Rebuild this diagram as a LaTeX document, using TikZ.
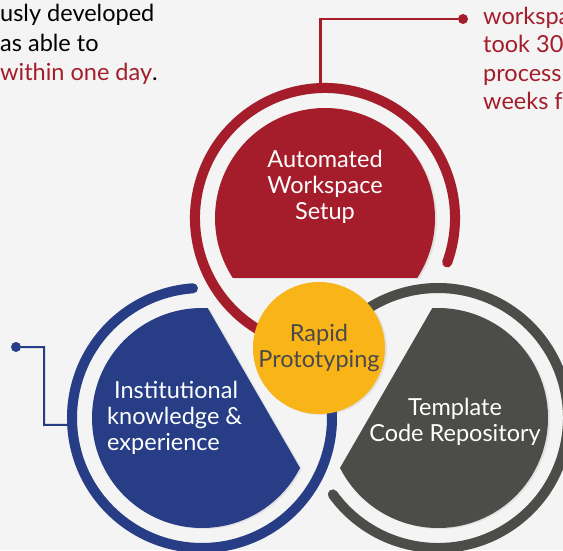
\documentclass[tikz,border=0pt]{standalone}
\usepackage{fontspec}
\setmainfont{Lato}
\usetikzlibrary{calc,shadows}
\definecolor{setupred}{HTML}{A51D2A}
\definecolor{knowblue}{HTML}{273D86}
\definecolor{repogray}{HTML}{4C4C48}
\definecolor{rapidyellow}{HTML}{F9B418}
\definecolor{rapidtext}{HTML}{4A4A4A}
\definecolor{paper}{HTML}{F4F4F4}

\begin{document}
\begin{tikzpicture}[x=1pt,y=1pt]
    \tikzstyle{ring}=[line width=10pt, line cap=round]
    \tikzstyle{ringshade}=[line width=10pt, line cap=round, black, opacity=0.12, shift={(2pt,-1pt)}]
    \tikzstyle{disc}=[drop shadow={shadow xshift=2pt, shadow yshift=-1pt, opacity=0.15}]
    \tikzstyle{disctext}=[text=white, align=center, inner sep=0pt, font=\fontsize{23.5}{26}\selectfont]
    \tikzstyle{dot}=[circle, inner sep=0pt, minimum size=10pt]
    \tikzstyle{note}=[anchor=base west, inner sep=0pt, font=\fontsize{23.5}{29}\selectfont]
    \useasboundingbox (0,0) rectangle (563,550);
    \fill[paper] (0,0) rectangle (563,550);
    \clip (0,0) rectangle (563,550);

    \coordinate (R) at (325,332);
    \coordinate (B) at (202,132);
    \coordinate (C) at (438,132);

    \draw[ringshade] ($(R)+(-20:130)$) arc[start angle=-20, end angle=250, radius=130];
    \draw[ringshade] ($(B)+(94:130)$) arc[start angle=94, end angle=380, radius=130];
    \draw[ringshade] ($(C)+(216:130)$) arc[start angle=216, end angle=490, radius=130];
    \draw[ring, setupred] ($(R)+(-20:130)$) arc[start angle=-20, end angle=250, radius=130];
    \draw[ring, knowblue] ($(B)+(94:130)$) arc[start angle=94, end angle=380, radius=130];
    \draw[ring, repogray] ($(C)+(216:130)$) arc[start angle=216, end angle=490, radius=130];

    \fill[disc, setupred] ($(R)+(-33:110)$) arc[start angle=-33, end angle=213, radius=110] -- cycle;
    \fill[disc, knowblue] ($(B)+(87:110)$) arc[start angle=87, end angle=333, radius=110] -- cycle;
    \fill[disc, repogray] ($(C)+(207:110)$) arc[start angle=207, end angle=453, radius=110] -- cycle;

    \node[disctext] (autoSetup) at (325,363) {Automated\\Workspace\\Setup};
    \node[disctext, align=left, anchor=west] (knowledge) at (107,132) {\hspace*{7pt}Institutional\\knowledge \&\\experience};
    \node[disctext] (codeRepo) at (455,128) {Template\\Code Repository};

    \node[circle, fill=rapidyellow, minimum size=132pt, inner sep=0pt, disc] (rapid) at (319,202) {};
    \node[disctext, text=rapidtext] (rapidText) at (rapid) {Rapid\\Prototyping};

    \coordinate (redRing) at ($(R)+(92:130)$);
    \coordinate (blueRing) at ($(B)+(183:130)$);
    \coordinate (blueBend) at (44,125);
    \node[dot, fill=setupred] (redDot) at (463,531) {};
    \node[dot, fill=knowblue] (blueDot) at (16,203) {};
    \draw[setupred, line width=2.5pt] (redDot) -| (redRing);
    \draw[knowblue, line width=2pt] (blueDot) -| (blueBend) -- (blueRing);

    \node[note] (leftA) at (0,528) {usly developed};
    \node[note] (leftB) at (0,498) {as able to};
    \node[note] (leftC) at (0,469) {{\color{setupred}within one day}.};
    \node[note, text=setupred] (rightA) at (483,525) {workspa};
    \node[note, text=setupred] (rightB) at (483,497) {took 30};
    \node[note, text=setupred] (rightC) at (483,468) {process};
    \node[note, text=setupred] (rightD) at (483,440) {weeks f};
\end{tikzpicture}
\end{document}
